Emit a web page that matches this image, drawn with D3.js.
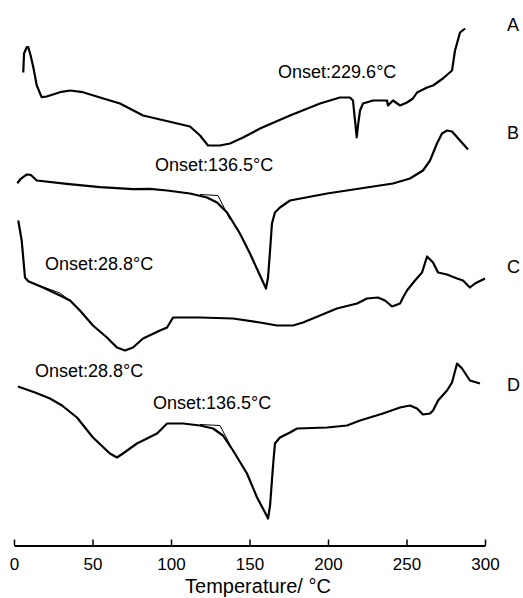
<!DOCTYPE html>
<html lang="en">
<head>
    <meta charset="UTF-8">
    <title>DSC curves</title>
    <script src="https://d3js.org/d3.v7.min.js"></script>
    <style>
        body { margin: 0; background: #fff; }
        svg text { font-family: "Liberation Sans", Arial, Helvetica, sans-serif; fill: #000; }
    </style>
</head>
<body>
<svg id="chart" width="523" height="598"></svg>

<script>
    // temperature (°C) and heat flow (arbitrary units, curves stacked)
    const tempA = [5.9, 6.4, 8.1, 9.1, 10.6, 12.3, 14.5, 17.6, 20.8, 29.3, 35.7, 43.9, 54.8, 67.5, 82.2, 101.3, 112.1, 118.5, 123.6, 131.2, 137.6, 145.9, 156.7, 175.8, 194.9, 207.6, 214.0, 215.9, 217.2, 218.3, 219.1, 220.4, 222.3, 228.7, 237.6, 238.2, 241.4, 245.9, 250.3, 254.1, 256.7, 263.1, 266.9, 273.2, 279.0, 280.9, 284.1, 287.3];
    const flowA = [473, 492, 498.3, 498.3, 490, 478.3, 460, 448.3, 449, 453.3, 455, 453.3, 448, 442, 430, 423, 419, 410, 400, 400, 402, 408, 417, 430, 442, 448, 448, 445, 425, 408, 420, 435, 442, 445, 445, 440, 445, 440, 443, 447, 453, 458, 460, 467, 475, 495, 513, 517];

    const tempB = [2.1, 4.3, 8.1, 10.6, 14.5, 33.6, 54.8, 75.8, 86.6, 97.5, 112.1, 122.9, 129.3, 135.7, 143.9, 150.3, 156.7, 160.5, 161.8, 163.1, 164.3, 166.2, 169.4, 175.8, 199.4, 220.4, 241.4, 252.2, 260.5, 265.0, 269.4, 272.6, 275.8, 279.0, 284.1, 289.2];
    const flowB = [362.3, 366.7, 371, 370.7, 365, 361.7, 358.3, 356.3, 356.7, 355, 352, 348, 343, 333, 312, 292, 270, 257, 268, 295, 322, 333, 338, 345, 352, 357, 362, 367, 375, 385, 402, 412, 415, 414, 405, 396];

    const tempC = [2.7, 4.9, 7.0, 9.1, 18.5, 29.3, 35.7, 42.0, 50.3, 59.2, 65.6, 70.7, 75.8, 82.2, 93.0, 97.5, 101.3, 105.7, 118.5, 139.5, 156.7, 167.5, 177.7, 184.1, 194.9, 205.7, 218.5, 224.8, 231.8, 236.3, 240.8, 245.9, 247.8, 250.3, 255.4, 259.9, 263.1, 266.9, 270.1, 275.8, 282.2, 286.0, 290.4, 293.6, 300.0];
    const flowC = [325, 305, 268, 264.3, 258, 250, 245, 235, 220, 208, 198, 195, 198, 207, 215, 218, 228, 228, 228, 227, 223, 220, 220, 223, 230, 237, 242, 247, 248, 245, 239, 242, 248, 255, 265, 273, 289, 283, 273, 271, 267, 265, 258, 262, 267];

    const tempD = [2.5, 13.4, 22.9, 30.6, 40.1, 50.3, 61.1, 65.6, 69.4, 78.3, 84.7, 91.1, 97.5, 107.6, 118.5, 126.8, 133.1, 139.5, 148.4, 154.8, 159.9, 161.8, 163.1, 165.0, 166.2, 169.4, 175.8, 180.3, 199.4, 212.1, 220.4, 235.0, 245.9, 252.2, 256.7, 260.5, 265.0, 266.9, 270.1, 275.8, 279.0, 282.2, 285.4, 290.4, 296.8];
    const flowD = [159, 153, 147, 140, 128, 108, 92, 88, 92, 102, 107, 112, 122, 122, 120, 117, 110, 95, 72, 48, 33, 27, 40, 80, 102, 108, 113, 117, 118, 120, 125, 132, 138, 140, 137, 131, 132, 135, 145, 155, 163, 182, 177, 165, 162];

    // onset construction lines (baseline extension + tangent)
    const tanTempB = [118.5, 129.9, 137.6];
    const tanFlowB = [351, 350, 326];
    const tanTempC = [8.9, 29.3, 36.9];
    const tanFlowC = [264, 252.5, 243.5];
    const tanTempD = [118.5, 131.2, 138.2];
    const tanFlowD = [121, 120, 99];

    const curveNames = ["A", "B", "C", "D"];
    const curveNameFlow = [515, 407, 273, 155];

    const onsetTexts = ["Onset:229.6°C", "Onset:136.5°C", "Onset:28.8°C", "Onset:28.8°C", "Onset:136.5°C"];
    const onsetTemp = [168.2, 89.8, 19.7, 13.4, 88.5];
    const onsetFlow = [467.5, 374.5, 276, 168.5, 137];

    const xTicks = [0, 50, 100, 150, 200, 250, 300];

    const svg = d3.select("#chart");
    const x = d3.scaleLinear().domain([0, 300]).range([14, 485]);
    const y = d3.scaleLinear().domain([0, 545]).range([545.5, 0.5]);

    const zip = (ts, vs) => ts.map((t, i) => [t, vs[i]]);
    const line = d3.line().x(d => x(d[0])).y(d => y(d[1]));

    const curves = [zip(tempA, flowA), zip(tempB, flowB), zip(tempC, flowC), zip(tempD, flowD)];
    const tangents = [zip(tanTempB, tanFlowB), zip(tanTempC, tanFlowC), zip(tanTempD, tanFlowD)];

    svg.append("g")
        .selectAll("path")
        .data(tangents)
        .enter().append("path")
        .attr("d", line)
        .attr("fill", "none")
        .attr("stroke", "#000")
        .attr("stroke-width", 1);

    svg.append("g")
        .selectAll("path")
        .data(curves)
        .enter().append("path")
        .attr("d", line)
        .attr("fill", "none")
        .attr("stroke", "#000")
        .attr("stroke-width", 2.2)
        .attr("stroke-linejoin", "round");

    // x axis, ticks pointing inward
    const axis = svg.append("g")
        .attr("transform", "translate(0,545.5)")
        .call(d3.axisBottom(x).tickValues(xTicks).tickSizeInner(-6).tickSizeOuter(0).tickPadding(12.5));
    axis.select(".domain").attr("stroke-width", 2);
    axis.selectAll(".tick line").attr("stroke-width", 1.5);
    axis.selectAll(".tick text")
        .attr("font-size", 17)
        .attr("font-family", "'Liberation Sans', Arial, sans-serif");

    svg.append("text")
        .attr("x", 258)
        .attr("y", 593)
        .attr("text-anchor", "middle")
        .attr("font-size", 20)
        .text("Temperature/ °C");

    svg.append("g")
        .selectAll("text")
        .data(curveNames)
        .enter().append("text")
        .attr("x", x(314))
        .attr("y", (d, i) => y(curveNameFlow[i]))
        .attr("font-size", 18)
        .text(d => d);

    svg.append("g")
        .selectAll("text")
        .data(onsetTexts)
        .enter().append("text")
        .attr("x", (d, i) => x(onsetTemp[i]))
        .attr("y", (d, i) => y(onsetFlow[i]))
        .attr("font-size", 18)
        .text(d => d);
</script>
</body>
</html>
